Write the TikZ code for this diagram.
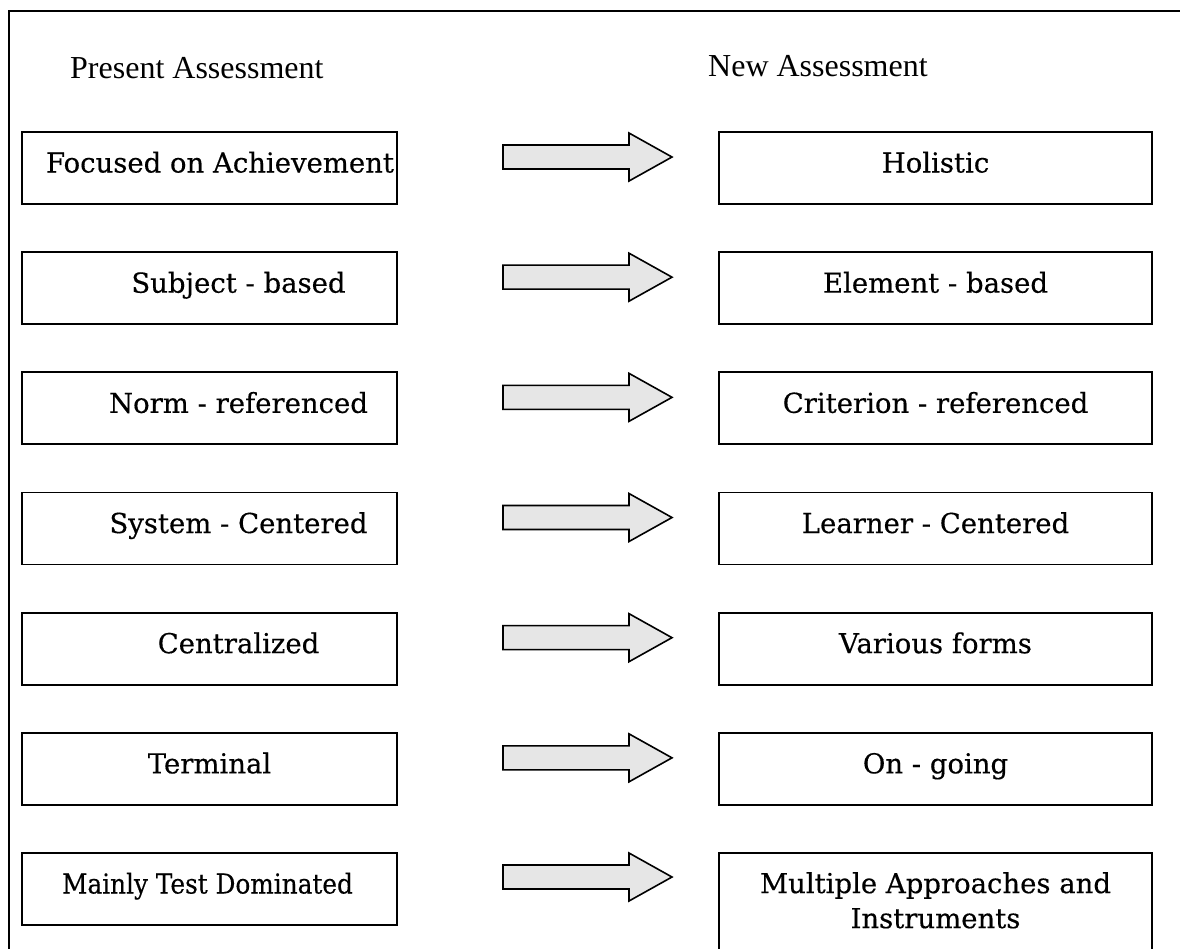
\documentclass[tikz,border=0pt]{standalone}
\usepackage{fontspec}
\setmainfont{Liberation Serif}
\newfontfamily\boxfont[FakeBold=0.4]{DejaVu Serif}
\newfontfamily\boxfontnarrow[FakeBold=0.4,FakeStretch=0.9]{DejaVu Serif}
\begin{document}
\begin{tikzpicture}[x=1pt,y=-1pt,
  framebox/.style={draw=black,line width=2pt},
  lbox/.style={draw=black,line width=1.8pt,minimum width=375pt,minimum height=72pt,inner sep=0pt},
  rbox/.style={draw=black,line width=1.8pt,minimum width=433pt,minimum height=72pt,inner sep=0pt},
  boxtext/.style={font=\boxfont\fontsize{27.5}{35}\selectfont,inner sep=0pt,anchor=base,align=center},
  narrowtext/.style={boxtext,font=\boxfontnarrow\fontsize{27.5}{35}\selectfont},
  heading/.style={font=\fontsize{32}{36}\selectfont,inner sep=0pt,anchor=base west},
  arrowshape/.style={draw=black,line width=1.6pt,fill=arrowgray,line join=miter},
  pics/fatarrow/.style={code={
    \draw[arrowshape] (0,-12) -- (126,-12) -- (126,-24) -- (169,0) -- (126,24) -- (126,12) -- (0,12) -- cycle;}}
]
\definecolor{arrowgray}{HTML}{E6E6E6}
\useasboundingbox (0,0) rectangle (1180,948);
\clip (0,0) rectangle (1180,948);

% outer frame (runs off the page on the right and at the bottom)
\draw[framebox] (8.5,11) rectangle (1200,980);

% column headings
\node[heading] (hleft) at (70,78) {Present Assessment};
\node[heading] (hright) at (708,76) {New Assessment};

% rows: left box, arrow, right box
\foreach \i/\ltxt/\lx/\rtxt in {
  1/{Focused on Achievement}/220/{Holistic},
  2/{Subject - based}/238.5/{Element - based},
  3/{Norm - referenced}/238.5/{Criterion - referenced},
  4/{System - Centered}/238.5/{Learner - Centered},
  5/{Centralized}/238.5/{Various forms},
  6/{Terminal}/209.5/{On - going}}{
  \pgfmathsetmacro{\top}{132+120.17*(\i-1)}
  \node[lbox] (l\i) at (209.5,\top+36) {};
  \node[rbox] (r\i) at (935.5,\top+36) {};
  \node[boxtext] (lt\i) at (\lx,\top+40.5) {\ltxt};
  \node[boxtext] (rt\i) at (935.5,\top+40.5) {\rtxt};
  \pic at (503,\top+25) {fatarrow};
}

% last row: the right box holds two lines and runs past the bottom edge
\node[lbox] (l7) at (209.5,889) {};
\node[rbox,minimum height=120pt] (r7) at (935.5,913) {};
\node[narrowtext] (lt7) at (207.5,893.5) {Mainly Test Dominated};
\node[boxtext,anchor=north] (rt7) at (935.5,872) {Multiple Approaches and\\Instruments};
\pic at (503,877) {fatarrow};
\end{tikzpicture}
\end{document}
